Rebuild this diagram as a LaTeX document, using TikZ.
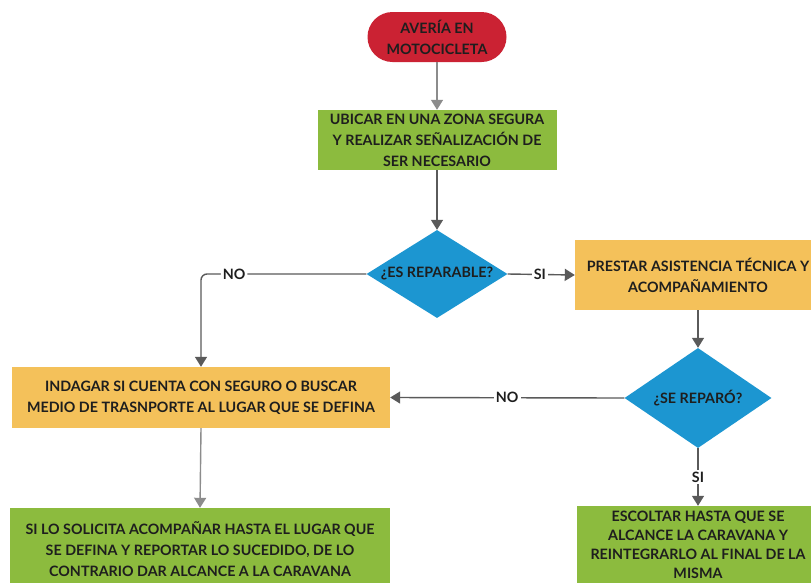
\documentclass[tikz,border=0pt]{standalone}
\usepackage{fontspec}
\setmainfont{Lato}
\usetikzlibrary{shapes.geometric,arrows.meta}
\definecolor{cred}{HTML}{CB2233}
\definecolor{cgreen}{HTML}{8CBB3E}
\definecolor{corange}{HTML}{F4C15A}
\definecolor{cblue}{HTML}{1C96D1}
\definecolor{cline}{HTML}{5A5A5A}
\definecolor{clight}{HTML}{8C8C8C}
\definecolor{ctext}{HTML}{1E1E1E}
\tikzset{
  txt/.style={font=\fontsize{14.3}{21}\selectfont\bfseries, text=ctext, align=center},
  boxg/.style={txt, fill=cgreen, inner sep=0pt},
  boxo/.style={txt, fill=corange, inner sep=0pt},
  term/.style={txt, fill=cred, rounded corners=25pt, inner sep=0pt},
  dec/.style={diamond, fill=cblue, inner sep=0pt},
  arr/.style={draw=cline, line width=1.4pt, -{Triangle[width=12pt,length=10pt]}},
  lab/.style={txt, fill=white, inner sep=2pt},
}
\begin{document}
\begin{tikzpicture}[x=1pt,y=-1pt]
\useasboundingbox (0,0) rectangle (811,582);
\fill[white] (0,0) rectangle (811,582);
\node[term, minimum width=139pt, minimum height=50pt] (start) at (437,37) {AVERÍA EN\\MOTOCICLETA};
\node[boxg, minimum width=239pt, minimum height=60pt] (ubicar) at (437,140) {UBICAR EN UNA ZONA SEGURA\\Y REALIZAR SEÑALIZACIÓN DE\\SER NECESARIO};
\node[dec, minimum width=141pt, minimum height=88pt] (d1) at (437,274) {};
\node[txt] (d1t) at (d1.center) {¿ES REPARABLE?};
\node[boxo, minimum width=246pt, minimum height=70pt] (prestar) at (698,275) {PRESTAR ASISTENCIA TÉCNICA Y\\ACOMPAÑAMIENTO};
\node[dec, minimum width=147pt, minimum height=100pt] (d2) at (698,398) {};
\node[txt] (d2t) at (d2.center) {¿SE REPARÓ?};
\node[boxo, minimum width=378pt, minimum height=61pt] (indagar) at (201,397.5) {INDAGAR SI CUENTA CON SEGURO O BUSCAR\\MEDIO DE TRASNPORTE AL LUGAR QUE SE DEFINA};
\node[boxg, minimum width=380pt, minimum height=82pt] (silo) at (200,549) {SI LO SOLICITA ACOMPAÑAR HASTA EL LUGAR QUE\\SE DEFINA Y REPORTAR LO SUCEDIDO, DE LO\\CONTRARIO DAR ALCANCE A LA CARAVANA};
\node[boxg, minimum width=242pt, minimum height=78pt, font=\fontsize{14.3}{19}\selectfont\bfseries] (escoltar) at (698,545) {ESCOLTAR HASTA QUE SE\\ALCANCE LA CARAVANA Y\\REINTEGRARLO AL FINAL DE LA\\MISMA};

\draw[arr, draw=clight] (start) -- (ubicar);
\draw[arr] (ubicar) -- (d1.north);
\draw[arr, rounded corners=6pt] (d1.west) -| node[lab, pos=0.4] (no1) {NO} (indagar.north);
\draw[arr] (d1.east) -- node[lab, pos=0.48] (si1) {SI} (prestar.west);
\draw[arr] (prestar.south) -- (d2.north);
\draw[arr] (d2.west) -- node[lab, pos=0.5] (no2) {NO} (indagar.east);
\draw[arr, draw=clight] (indagar.south) -- (silo.north);
\draw[arr] (d2.south) -- node[lab, pos=0.5] (si2) {SI} (escoltar.north);
\end{tikzpicture}
\end{document}
